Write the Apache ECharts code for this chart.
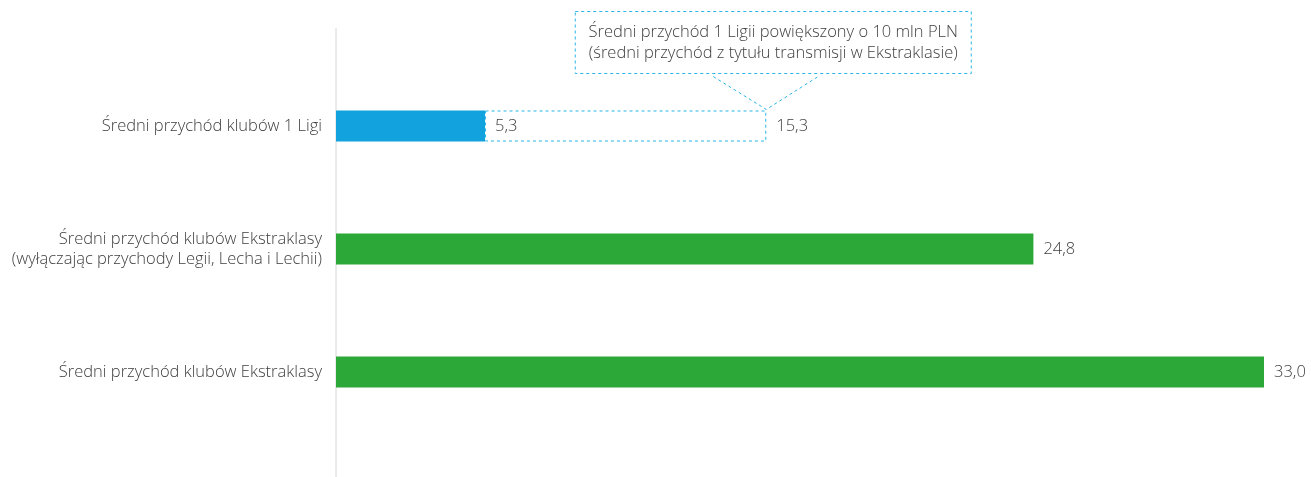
<!DOCTYPE html>
<html>
<head>
<meta charset="utf-8">
<script src="https://cdn.jsdelivr.net/npm/echarts@6/dist/echarts.min.js"></script>
<style>
html,body{margin:0;padding:0;background:#fff;}
#c{width:1311px;height:477px;}
</style>
</head>
<body>
<div id="c"></div>
<script>
const categories = [
  'Średni przychód klubów 1 Ligi',
  'Średni przychód klubów Ekstraklasy\n(wyłączając przychody Legii, Lecha i Lechii)',
  'Średni przychód klubów Ekstraklasy'
];
const baseValues = [5.3, 24.8, 33.0];
const extraValues = [10.0, null, null];
const calloutText = 'Średni przychód 1 Ligii powiększony o 10 mln PLN\n(średni przychód z tytułu transmisji w Ekstraklasie)';

const BLUE = '#12a3de';
const GREEN = '#2ca838';
const DASH = '#29b5e8';
const TXT = '#404040';
const FONT = '"Open Sans", "Noto Sans", sans-serif';
const FS = 16.5;
const FW = 300;
const fmt = v => v.toFixed(1).replace('.', ',');

const chart = echarts.init(document.getElementById('c'));
const option = {
  animation: false,
  grid: { left: 336, right: 47, top: 64.5, bottom: 43.5 },
  xAxis: { type: 'value', min: 0, max: 33, show: false },
  yAxis: {
    type: 'category', inverse: true, data: categories,
    axisLine: { show: false }, axisTick: { show: false },
    axisLabel: { color: TXT, fontSize: FS, fontFamily: FONT, fontWeight: FW, lineHeight: 20, margin: 14, align: 'right' }
  },
  series: [
    {
      type: 'bar', stack: 'a', barWidth: 31,
      data: baseValues.map((v, i) => ({ value: v, itemStyle: { color: i === 0 ? BLUE : GREEN } })),
      label: { show: true, position: 'right', distance: 10, color: TXT, fontSize: FS, fontFamily: FONT, fontWeight: FW, formatter: p => fmt(p.value) }
    },
    {
      type: 'bar', stack: 'a', barWidth: 31,
      data: extraValues,
      itemStyle: { color: 'rgba(0,0,0,0)', borderColor: DASH, borderWidth: 1, borderType: [3, 3] },
      label: { show: true, position: 'right', distance: 10, color: TXT, fontSize: FS, fontFamily: FONT, fontWeight: FW,
        formatter: p => fmt(baseValues[p.dataIndex] + p.value) }
    }
  ]
};
chart.setOption(option);

// axis line at x = 0 and callout pointing at the end of the dashed bar
const x0 = chart.convertToPixel({ gridIndex: 0 }, [0, categories[0]])[0];
const endPt = chart.convertToPixel({ gridIndex: 0 }, [baseValues[0] + extraValues[0], categories[0]]);
const tipX = endPt[0], tipY = endPt[1] - 15.5;
const boxW = 396, boxH = 62;
const boxX = tipX - boxW / 2 + 7, boxY = tipY - 99;
chart.setOption({
  graphic: [
    { type: 'line', shape: { x1: x0, y1: 28, x2: x0, y2: 477 }, style: { stroke: '#d6d6d6', lineWidth: 1 }, z: 0 },
    { type: 'rect', shape: { x: boxX, y: boxY, width: boxW, height: boxH }, style: { fill: '#fff', stroke: DASH, lineWidth: 1, lineDash: [3, 3] } },
    { type: 'text', x: boxX + boxW / 2, y: boxY + boxH / 2,
      style: { text: calloutText, fill: TXT, fontSize: FS, fontFamily: FONT, fontWeight: FW, lineHeight: 21, align: 'center', verticalAlign: 'middle' } },
    { type: 'polyline', shape: { points: [[tipX - 53, boxY + boxH + 3], [tipX, tipY - 1], [tipX + 52, boxY + boxH + 3]] },
      style: { stroke: DASH, lineWidth: 1, lineDash: [3, 3], fill: null } }
  ]
});
</script>
</body>
</html>
